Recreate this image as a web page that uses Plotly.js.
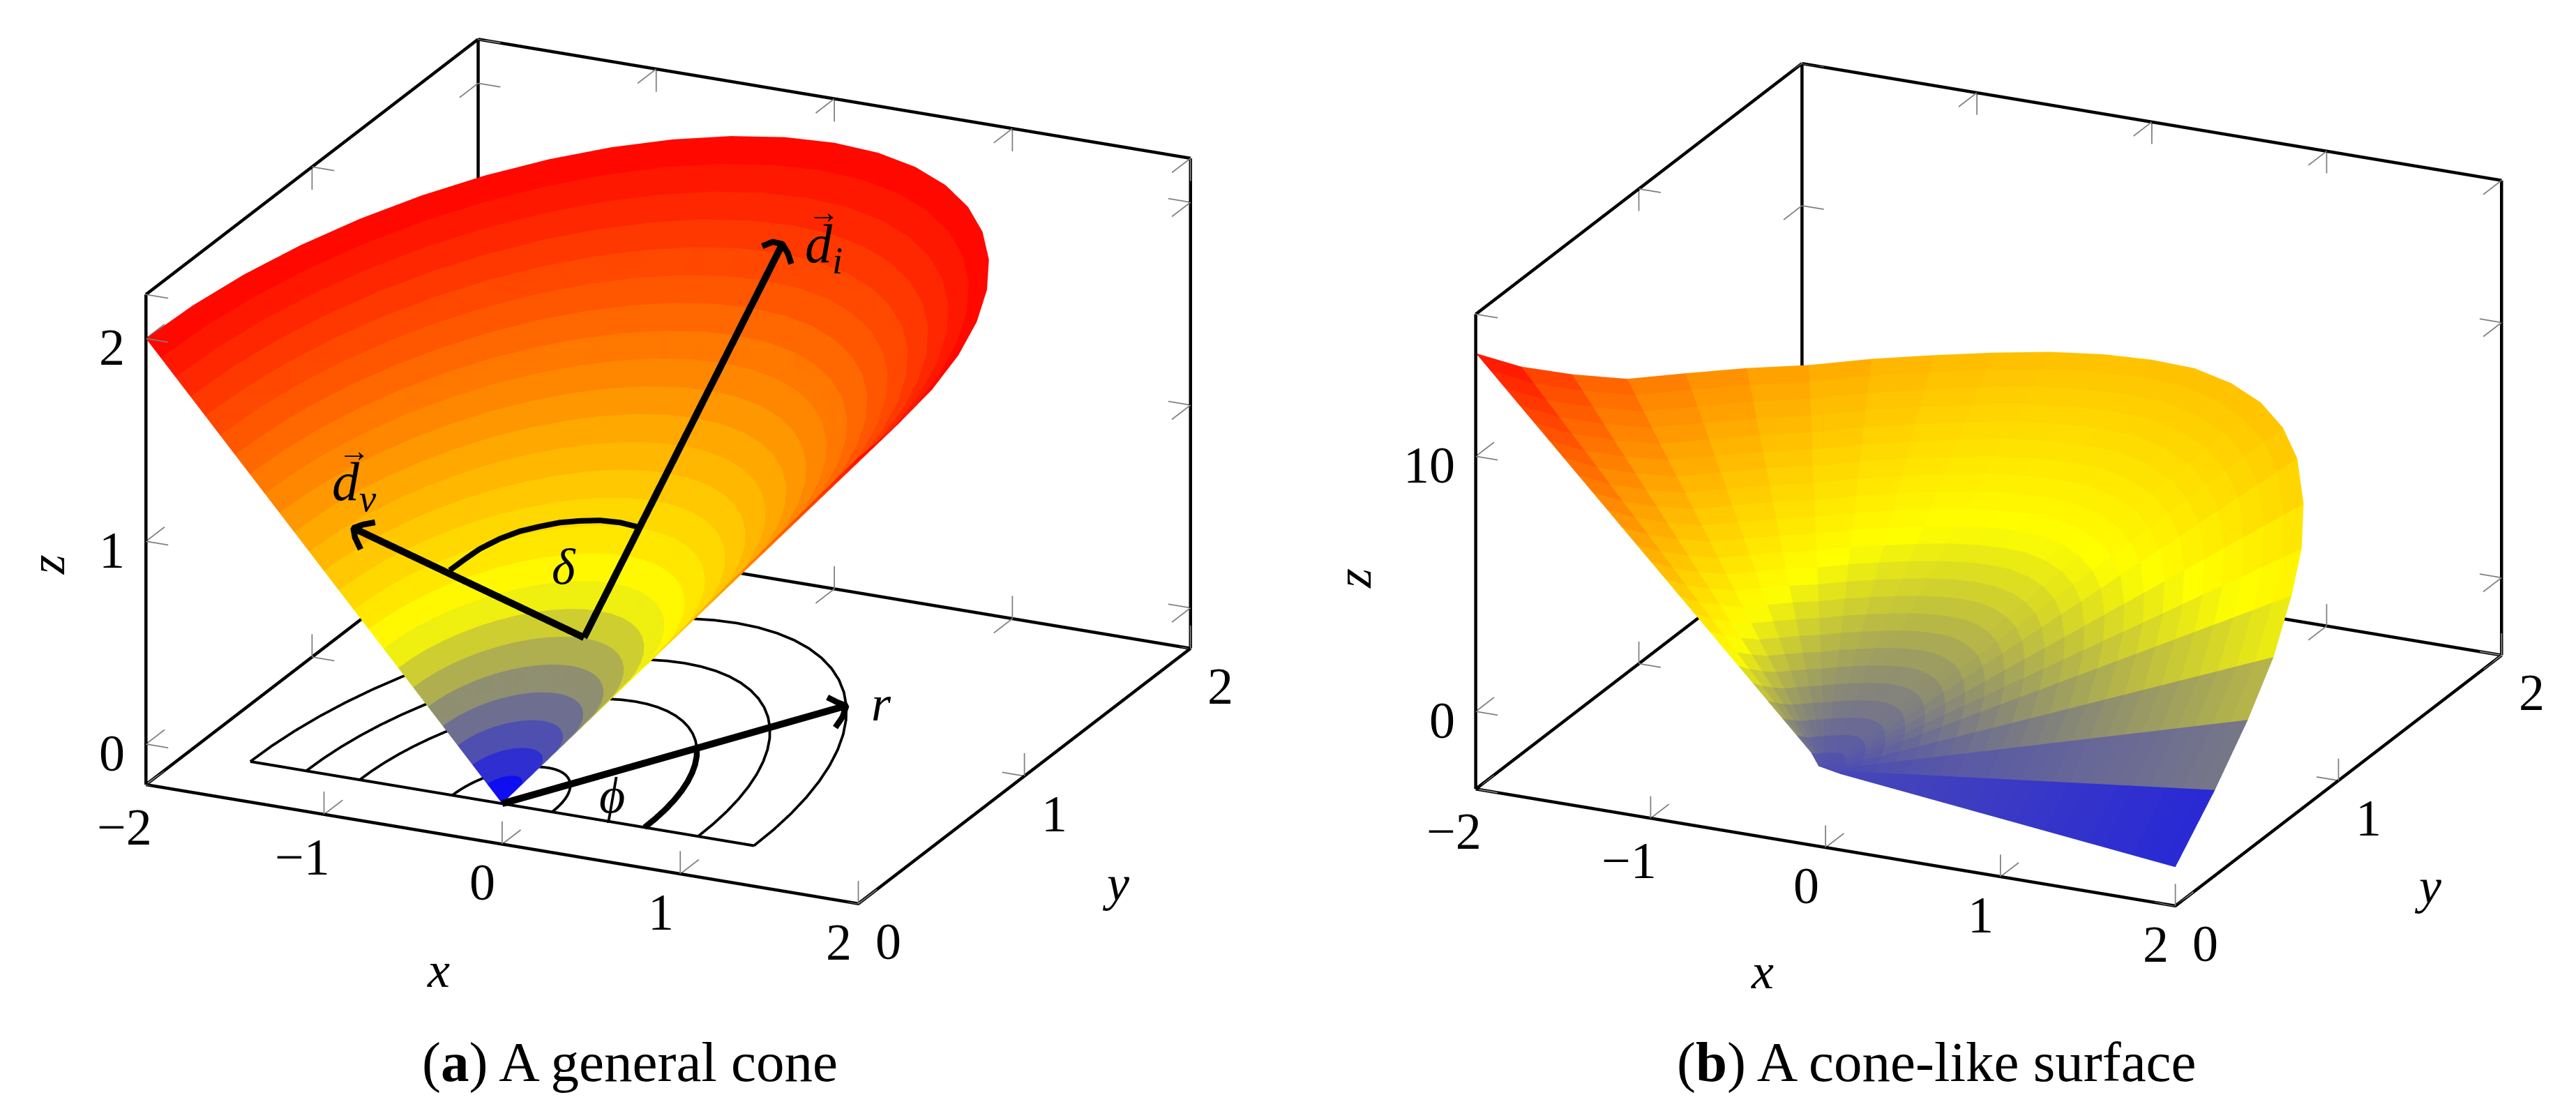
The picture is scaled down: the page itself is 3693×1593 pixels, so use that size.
<!DOCTYPE html>
<html><head><meta charset="utf-8"><script src="https://cdn.plot.ly/plotly-3.0.0.min.js"></script>
<style>html,body{margin:0;padding:0;background:#fff}</style></head><body><div id="g" style="width:3693px;height:1593px"></div>
<script>
// ---- data ----
var phiDeg=[0,7.5,15,22.5,30,37.5,45,52.5,60,67.5,75,82.5,90,97.5,105,112.5,120,127.5,135,142.5,150,157.5,165,172.5,180];
var radii=[0,0.0833,0.1667,0.25,0.3333,0.4167,0.5,0.5833,0.6667,0.75,0.8333,0.9167,1,1.0833,1.1667,1.25,1.3333,1.4167,1.5,1.5833,1.6667,1.75,1.8333,1.9167,2];
var rimHeightA=[2,2,2,2,2,2,2,2,2,2,2,2,2,2,2,2,2,2,2,2,2,2,2,2,2];
var rimHeightB=[-1.52,0.2,1.63,2.78,3.9,4.5,5.1,5.8,6.05,6.2,6.26,6.3,6.25,6.25,6.3,6.4,6.6,6.92,7.3,7.95,8.65,9.45,10.75,12.25,14.04];
var apexA={x:0,y:0,z:0}, apexB={x:-0.04,y:0,z:0.1};
var arcRadii=[0.28,0.8,1.1,1.414];
var arcDeg=[0,5,10,15,20,25,30,35,40,45,50,55,60,65,70,75,80,85,90,95,100,105,110,115,120,125,130,135,140,145,150,155,160,165,170,175,180];
var thickArcDeg=[0,5,10,15,20,25,30,35,40,45];
var xTicks=[-2,-1,0,1,2], yTicks=[0,1,2], zTicksA=[0,1,2], zTicksB=[0,10];
var xBox=[-2,2], yBox=[0,2], zBoxA=[-0.2,2.217], zBoxB=[-3.04,15.57];
var hot=[[0,'rgb(0,0,255)'],[1/3,'rgb(255,255,0)'],[2/3,'rgb(255,128,0)'],[1,'rgb(255,0,0)']];
// overlay vectors, given as 3D points that project onto the drawn arrows
var rArrow={x:[0,1],y:[0,1],z:[0,0]};
var rHead={x:[0.862,0.936,1,1.05,1.08],y:[1.034,1.0125,1,0.9235,0.848],z:[0,0,0,0,0]};
var diArrow={x:[-0.473,0.361],y:[1,1.3],z:[0.12,1.994]};
var diHead={x:[0.248,0.307,0.361,0.392,0.411],y:[1.3,1.3,1.3,1.3,1.3],z:[1.967,1.997,1.994,1.953,1.904]};
var dvArrow={x:[-0.473,-1.768],y:[1,1],z:[0.12,0.47]};
var dvHead={x:[-1.646,-1.714,-1.768,-1.759,-1.727],y:[1,1,1,1,1],z:[0.516,0.495,0.47,0.426,0.371]};
var deltaArc={x:[-1.227,-1.141,-1.06,-0.947,-0.834,-0.722,-0.609,-0.496,-0.383,-0.271,-0.158],y:[1,1,1,1,1,1,1,1,1,1,1],z:[0.341,0.409,0.47,0.537,0.591,0.631,0.667,0.692,0.711,0.717,0.709]};
// ---- helpers ----
var pad=0.01; // axis ranges are a touch wider than the drawn box so its edges are not clipped
var zoomA=1.667*1.02, zoomB=zoomA*0.982;
var view={t:25,e:21,k:2};
function wide(r){var d=(r[1]-r[0])*pad;return [r[0]-d,r[1]+d];}
function cam(){var t=view.t*Math.PI/180,e=view.e*Math.PI/180,k=view.k;
 return {eye:{x:k*Math.sin(t)*Math.cos(e),y:-k*Math.cos(t)*Math.cos(e),z:k*Math.sin(e)},center:{x:0,y:0,z:0},up:{x:0,y:0,z:1},projection:{type:'orthographic'}};}
function scene(dom,zr,zasp,zoom){var hid=function(r){return {range:wide(r),visible:false,autorange:false,showspikes:false};};
 return {domain:dom,camera:cam(),aspectmode:'manual',aspectratio:{x:zoom,y:zoom,z:zasp*zoom},xaxis:hid(xBox),yaxis:hid(yBox),zaxis:hid(zr),bgcolor:'rgba(0,0,0,0)',dragmode:false};}
function lines(x,y,z,col,w,sc){return {type:'scatter3d',mode:'lines',x:x,y:y,z:z,line:{color:col,width:w},scene:sc,hoverinfo:'skip',showlegend:false,connectgaps:false};}
function cone(rim,apex,zmin,zmax,sc){var X=[],Y=[],Z=[],I=[],J=[],K=[],C=[],n=phiDeg.length,m=radii.length;
 for(var a=0;a<n;a++)for(var b=0;b<m;b++){var p=phiDeg[a]*Math.PI/180;
  if(b===0){X.push(apex.x);Y.push(apex.y);Z.push(apex.z);}
  else{X.push(radii[b]*Math.cos(p));Y.push(radii[b]*Math.sin(p));Z.push(radii[b]*rim[a]/2);}}
 for(a=0;a<n-1;a++)for(b=0;b<m-1;b++){var q=a*m+b,r=q+1,s=q+m,u=s+1,v=(Z[q]+Z[r]+Z[s]+Z[u])/4;I.push(q,q);J.push(r,u);K.push(u,s);C.push(v,v);}
 return {type:'mesh3d',x:X,y:Y,z:Z,i:I,j:J,k:K,intensity:C,intensitymode:'cell',colorscale:hot,cmin:zmin,cmax:zmax,showscale:false,flatshading:true,hoverinfo:'skip',
  lighting:{ambient:1,diffuse:0,specular:0,roughness:1,fresnel:0},scene:sc};}
function box(z0,z1,sc){var x=[-2,2,2,null,-2,2,null,-2,2,null,-2,-2,-2,null,-2,-2,null,-2,-2,null,2,2],
 y=[0,0,2,null,2,2,null,2,2,null,0,2,2,null,0,0,null,0,2,null,2,2],
 z=[z0,z0,z0,null,z0,z0,null,z1,z1,null,z0,z0,z1,null,z0,z1,null,z1,z1,null,z0,z1];
 return lines(x,y,z,'#000',9,sc);}
function ticks(zt,z0,z1,sc){var X=[],Y=[],Z=[],dz=(z1-z0)*0.0465,dx=0.125,dy=0.112;
 function seg(a,b,c,d,e,f){X.push(a,a+d,null);Y.push(b,b+e,null);Z.push(c,c+f,null);}
 xTicks.forEach(function(v){seg(v,0,z0,0,0,dz);seg(v,0,z0,0,dy,0);seg(v,2,z0,0,0,dz);seg(v,2,z0,0,-dy,0);seg(v,2,z1,0,0,-dz);seg(v,2,z1,0,-dy,0);});
 yTicks.forEach(function(v){seg(-2,v,z0,0,0,dz);seg(-2,v,z0,dx,0,0);seg(2,v,z0,0,0,dz);seg(2,v,z0,-dx,0,0);seg(-2,v,z1,0,0,-dz);seg(-2,v,z1,dx,0,0);});
 zt.forEach(function(v){seg(-2,0,v,dx,0,0);seg(-2,0,v,0,dy,0);seg(-2,2,v,dx,0,0);seg(-2,2,v,0,-dy,0);seg(2,2,v,-dx,0,0);seg(2,2,v,0,-dy,0);});
 return lines(X,Y,Z,'#7f7f7f',3.5,sc);}
function arc(r,deg,w,sc){return lines(deg.map(function(d){return r*Math.cos(d*Math.PI/180)}),deg.map(function(d){return r*Math.sin(d*Math.PI/180)}),deg.map(function(){return 0}),'#000',w,sc);}
function poly(o,w,sc){return lines(o.x,o.y,o.z,'#000',w,sc);}
var traces=[box(zBoxA[0],zBoxA[1],'scene'),ticks(zTicksA,zBoxA[0],zBoxA[1],'scene'),
 lines([-1.414,1.414],[0,0],[0,0],'#000',8,'scene')];
arcRadii.forEach(function(r){traces.push(arc(r,arcDeg,7.5,'scene'));});
traces.push(cone(rimHeightA,apexA,0,2,'scene'));
traces.push(arc(0.8,thickArcDeg,17,'scene2'),poly(rArrow,20,'scene2'),poly(rHead,17,'scene2'),poly(diArrow,20,'scene2'),poly(diHead,17,'scene2'),poly(dvArrow,20,'scene2'),poly(dvHead,17,'scene2'),poly(deltaArc,16,'scene2'));
traces.push(box(zBoxB[0],zBoxB[1],'scene3'),ticks(zTicksB,zBoxB[0],zBoxB[1],'scene3'),cone(rimHeightB,apexB,-1.52,14.04,'scene3'));
// ---- text ----
var F='Liberation Serif';
function note(x,y,z,t,dx,dy,sz,extra){var o={x:x,y:y,z:z,text:t,showarrow:false,xshift:dx,yshift:-dy,font:{family:F,size:sz,color:'#000'},xanchor:'center',yanchor:'middle'};for(var k in extra)o[k]=extra[k];return o;}
function tickNotes(zt,z0,b){var A=[];
 xTicks.forEach(function(v){A.push(note(v,0,z0,(v<0?'\u2212':'')+Math.abs(v),v<0?-31:-28,v<0?61:55,74));});
 yTicks.forEach(function(v){A.push(note(2,v,z0,''+v,43,54,74));});
 zt.forEach(function(v){A.push(note(-2,0,v,''+v,-28,13,74,{xanchor:'right'}));});
 A.push(note(0,0,z0,'<i>x</i>',-91,b?178:181,72));A.push(note(2,1,z0,'<i>y</i>',b?128:131,b?152:154,72));
 return A;}
var annA=tickNotes(zTicksA,zBoxA[0],false).concat([
 note(-2,0,1,'<i>z</i>',-141,34,72,{textangle:-90}),
 note(1,1,0,'<i>r</i>',50,-3,72),note(0.459,0.168,0,'<i>\u03d5</i>',0,0,72),note(-0.586,1,0.453,'<i>\u03b4</i>',0,0,72),
 note(-1.795,1,0.675,'<i>d</i><sub><i>v</i></sub>',8,0,78),note(0.623,1.3,2.016,'<i>d</i><sub><i>i</i></sub>',-8,0,78),
 note(-1.795,1,0.675,'\u2192',8,-50,46),note(0.623,1.3,2.016,'\u2192',-8,-50,46)]);
var annB=tickNotes(zTicksB,zBoxB[0],true).concat([note(-2,0,5,'<i>z</i>',-175,-8,72,{textangle:-90})]);
var domA={x:[58/3693,1858/3693],y:[241/1593,1]};
var layout={width:3693,height:1593,margin:{l:0,r:0,t:0,b:0},paper_bgcolor:'#fff',showlegend:false,
 scene:Object.assign(scene(domA,zBoxA,0.668,zoomA),{annotations:annA}),
 scene2:scene(domA,zBoxA,0.668,zoomA),
 scene3:Object.assign(scene({x:[2009/3693,1],y:[222/1593,1574/1593]},zBoxB,0.659,zoomB),{annotations:annB}),
 annotations:[{xref:'paper',yref:'paper',x:903/3693,y:1-1523/1593,xanchor:'center',yanchor:'middle',text:'(<b>a</b>) A general cone',showarrow:false,font:{family:F,size:81,color:'#000'}},
  {xref:'paper',yref:'paper',x:2776/3693,y:1-1523/1593,xanchor:'center',yanchor:'middle',text:'(<b>b</b>) A cone-like surface',showarrow:false,font:{family:F,size:81,color:'#000'}}]};
Plotly.newPlot('g',traces,layout,{displayModeBar:false});
</script></body></html>
